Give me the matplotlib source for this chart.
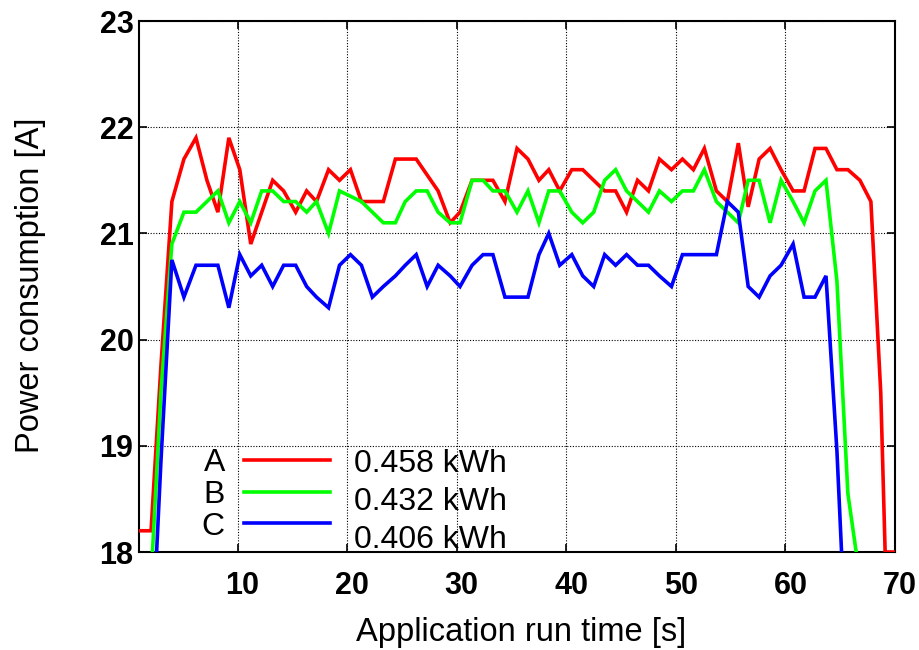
import matplotlib
matplotlib.use("Agg")
import matplotlib.pyplot as plt
import matplotlib.transforms as mtransforms
from matplotlib.lines import Line2D

# Sample times [s] shared by the three runs
time_s = [1.0, 2.1, 3.0, 4.0, 5.1, 6.2, 7.2, 8.2, 9.2, 10.2,
          11.2, 12.2, 13.2, 14.2, 15.3, 16.3, 17.2, 18.3, 19.3, 20.3,
          21.3, 22.3, 23.3, 24.4, 25.3, 26.3, 27.3, 28.3, 29.4, 30.3,
          31.4, 32.4, 33.3, 34.4, 35.5, 36.5, 37.5, 38.4, 39.4, 40.5,
          41.5, 42.5, 43.5, 44.5, 45.5, 46.5, 47.5, 48.5, 49.6, 50.6,
          51.6, 52.6, 53.7, 54.7, 55.7, 56.6, 57.6, 58.6, 59.6, 60.7,
          61.7, 62.7, 63.7, 64.7, 65.7, 66.8, 67.8, 68.7, 69.1, 70.1]

# Measured current [A] per run
current_a = [18.2, 18.2, 19.75, 21.3, 21.7, 21.9, 21.5, 21.2, 21.9, 21.6,
             20.9, 21.2, 21.5, 21.4, 21.2, 21.4, 21.3, 21.6, 21.5, 21.6,
             21.3, 21.3, 21.3, 21.7, 21.7, 21.7, 21.55, 21.4, 21.1, 21.2,
             21.5, 21.5, 21.5, 21.3, 21.8, 21.7, 21.5, 21.6, 21.4, 21.6,
             21.6, 21.5, 21.4, 21.4, 21.2, 21.5, 21.4, 21.7, 21.6, 21.7,
             21.6, 21.8, 21.4, 21.3, 21.85, 21.25, 21.7, 21.8, 21.6, 21.4,
             21.4, 21.8, 21.8, 21.6, 21.6, 21.5, 21.3, 19.5, 18.0, 18.0]

current_b = [17.75, 17.75, 19.5, 20.9, 21.2, 21.2, 21.3, 21.4, 21.1, 21.3,
             21.1, 21.4, 21.4, 21.3, 21.3, 21.2, 21.3, 21.0, 21.4, 21.35,
             21.3, 21.2, 21.1, 21.1, 21.3, 21.4, 21.4, 21.2, 21.1, 21.1,
             21.5, 21.5, 21.4, 21.4, 21.2, 21.4, 21.1, 21.4, 21.4, 21.2,
             21.1, 21.2, 21.5, 21.6, 21.4, 21.3, 21.2, 21.4, 21.3, 21.4,
             21.4, 21.6, 21.3, 21.2, 21.1, 21.5, 21.5, 21.1, 21.5, 21.3,
             21.1, 21.4, 21.5, 20.55, 18.55, 17.75]

current_c = [16.9, 16.9, 18.85, 20.75, 20.4, 20.7, 20.7, 20.7, 20.3, 20.8,
             20.6, 20.7, 20.5, 20.7, 20.7, 20.5, 20.4, 20.3, 20.7, 20.8,
             20.7, 20.4, 20.5, 20.6, 20.7, 20.8, 20.5, 20.7, 20.6, 20.5,
             20.7, 20.8, 20.8, 20.4, 20.4, 20.4, 20.8, 21.0, 20.7, 20.8,
             20.6, 20.5, 20.8, 20.7, 20.8, 20.7, 20.7, 20.6, 20.5, 20.8,
             20.8, 20.8, 20.8, 21.3, 21.2, 20.5, 20.4, 20.6, 20.7, 20.9,
             20.4, 20.4, 20.6, 18.95, 16.7]

series_names = ["A", "B", "C"]
energy_labels = ["0.458 kWh", "0.432 kWh", "0.406 kWh"]
x_ticks = [10, 20, 30, 40, 50, 60, 70]
y_ticks = [18, 19, 20, 21, 22, 23]

colors = ["#ff0000", "#00ff00", "#0000ff"]
font = "Liberation Sans"

fig = plt.figure(figsize=(9.19, 6.5), dpi=100)
W, H = 919, 650
x0, x1, y0, y1 = 139, 895, 21, 552
ax = fig.add_axes([x0 / W, 1 - y1 / H, (x1 - x0) / W, (y1 - y0) / H])

for vals, c in zip([current_a, current_b, current_c], colors):
    ax.plot(time_s[:len(vals)], vals, color=c, lw=2.6,
            solid_joinstyle="miter", zorder=3)

ax.set_xlim(1, 70)
ax.set_ylim(18, 23)
ax.set_xticks(x_ticks)
ax.set_yticks(y_ticks)
ax.grid(True, color="black", linestyle=(0, (1, 1.5)), linewidth=0.8)

for sp in ax.spines.values():
    sp.set_linewidth(1.5)

ax.tick_params(direction="in", length=6, width=1.2, top=True, right=True,
               labelsize=22, pad=4)
ax.tick_params(axis="x", pad=14)
shift = mtransforms.ScaledTranslation(5 / 100, 0, fig.dpi_scale_trans)
for lab in ax.get_xticklabels():
    lab.set_transform(lab.get_transform() + shift)
for lab in ax.get_xticklabels() + ax.get_yticklabels():
    lab.set_fontfamily(font)
    lab.set_fontweight("bold")

ax.set_xlabel("Application run time [s]", fontsize=23.5, family=font,
              va="center")
ax.xaxis.set_label_coords((521 - x0) / (x1 - x0), (y1 - 632) / (y1 - y0))
ax.set_ylabel("Power consumption [A]", fontsize=23.5, family=font,
              va="center")
ax.yaxis.set_label_coords((30 - x0) / (x1 - x0), (y1 - 285) / (y1 - y0))

handles = [Line2D([], [], color=c, lw=2.6) for c in colors]
ax.legend(handles, series_names, loc="center",
          bbox_to_anchor=((266 - x0) / (x1 - x0), (y1 - 495) / (y1 - y0)),
          markerfirst=False, frameon=False, handlelength=2.7,
          handletextpad=0.6, labelspacing=0.05, borderpad=0,
          prop={"family": font, "size": 23})

for txt, yb in zip(energy_labels, [471.7, 510, 548.3]):
    ax.text((354 - x0) / (x1 - x0), (y1 - yb) / (y1 - y0), txt,
            transform=ax.transAxes, ha="left", va="baseline",
            fontsize=23, family=font, zorder=4)

fig.savefig("out.png", dpi=100)
